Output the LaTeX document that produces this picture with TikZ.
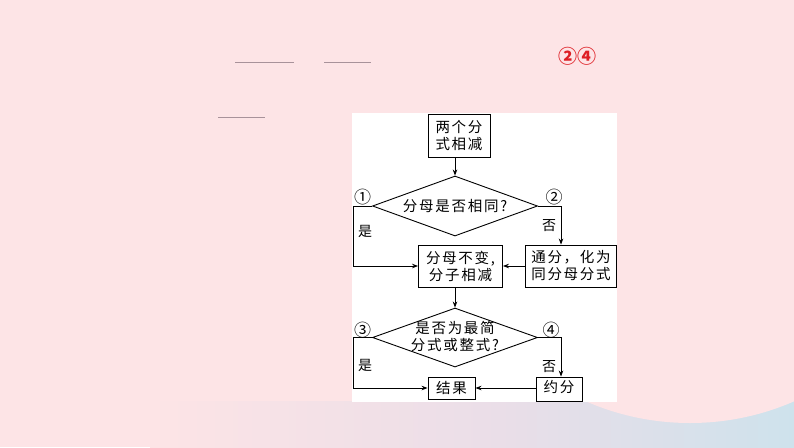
\documentclass[tikz,border=0pt]{standalone}
\usepackage{fontspec}
\setmainfont{Noto Sans CJK SC}
\newfontfamily\cjk[LetterSpace=12]{Noto Sans CJK SC}
\newfontfamily\cjkb{Noto Sans CJK SC}
\usetikzlibrary{shapes.geometric,arrows.meta}
\definecolor{bgpink}{RGB}{253,228,230}
\definecolor{bglav}{RGB}{234,222,232}
\definecolor{bgblue}{RGB}{206,226,236}
\definecolor{blankline}{RGB}{168,146,154}
\definecolor{ansred}{RGB}{222,30,36}
\tikzset{
  box/.style={draw=black, line width=0.9pt, rectangle, inner sep=0pt, fill=white},
  dia/.style={draw=black, line width=0.9pt, diamond, inner sep=0pt, aspect=2.75},
  txt/.style={inner sep=0pt, align=center, font=\cjk\fontsize{14.5}{17}\selectfont},
  lbl/.style={inner sep=0pt, font=\cjkb\fontsize{14}{14}\selectfont},
  circ/.style={inner sep=0pt, font=\cjkb\fontsize{17}{17}\selectfont},
  arr/.style={line width=0.8pt, -{Stealth[length=6pt,width=4.5pt]}},
  blank/.style={draw=blankline, line width=1.3pt}
}
\begin{document}
\begin{tikzpicture}[x=1pt,y=-1pt]
\useasboundingbox (0,0) rectangle (794,447);
% background
\fill[bgpink] (0,0) rectangle (794,447);
\shade[left color=bgpink, right color=bglav] (150,401) rectangle (500,447);
\shade[left color=bglav, right color=bgblue] (500,401) rectangle (794,447);
\fill[bgpink] (690,163) circle [radius=260];
% blanks
\coordinate (u1a) at (235,62.5); \coordinate (u1b) at (294,62.5);
\coordinate (u2a) at (324,62.5); \coordinate (u2b) at (371,62.5);
\coordinate (u3a) at (218,117.5); \coordinate (u3b) at (265,117.5);
\draw[blank] (u1a) -- (u1b);
\draw[blank] (u2a) -- (u2b);
\draw[blank] (u3a) -- (u3b);
\node[inner sep=0pt, text=ansred, font=\cjkb\bfseries\fontsize{19}{19}\selectfont] (ans) at (577,56) {②④};
% panel
\fill[white] (352,113) rectangle (617,402);
% flowchart
\node[box, minimum width=62pt, minimum height=43pt] (b1) at (459,135.5) {};
\node[txt] (t1) at (b1) {两个分\\式相减};
\node[dia, minimum width=165pt, minimum height=60pt] (d1) at (455,206) {};
\node[txt] (td1) at (d1) {分母是否相同?};
\node[box, minimum width=84pt, minimum height=42pt] (b2) at (460.5,266) {};
\node[txt] (t2) at (b2) {分母不变,\\分子相减};
\node[box, minimum width=91pt, minimum height=42pt] (b3) at (571,266) {};
\node[txt] (t3) at (b3) {通分，化为\\同分母分式};
\node[dia, minimum width=165pt, minimum height=59pt] (d2) at (455,337.5) {};
\node[txt] (td2) at ([yshift=1pt]d2.center) {是否为最简\\分式或整式?};
\node[box, minimum width=47pt, minimum height=22pt] (b4) at (451.5,388) {};
\node[txt] (t4) at (b4) {结果};
\node[box, minimum width=46pt, minimum height=24pt] (b5) at (559,389) {};
\node[txt] (t5) at ([yshift=2pt]b5.center) {约分};
\coordinate (lx) at (353,0);
\coordinate (rx) at (561,0);
% connectors
\draw[arr] (d1.north |- b1.south) -- (d1.north);
\draw[arr] (d1.west) -- (d1.west -| lx) |- (b2.west);
\draw[arr] (d1.east) -- (d1.east -| rx) -- (b3.north -| rx);
\draw[arr] (b3.west) -- (b2.east);
\draw[arr] (d2.north |- b2.south) -- (d2.north);
\draw[arr] (d2.west) -- (d2.west -| lx) |- (b4.west);
\draw[arr] (d2.east) -- (d2.east -| rx) -- (b5.north -| rx);
\draw[arr] (b5.west |- b4.east) -- (b4.east);
% labels
\node[circ] (c1) at (362.7,197) {①};
\node[circ] (c2) at (554,197) {②};
\node[lbl] (y1) at (365,231.7) {是};
\node[lbl] (n1) at (549,226) {否};
\node[circ] (c3) at (362.7,330) {③};
\node[circ] (c4) at (551,330) {④};
\node[lbl] (y2) at (365,365) {是};
\node[lbl] (n2) at (549,367) {否};
\end{tikzpicture}
\end{document}
